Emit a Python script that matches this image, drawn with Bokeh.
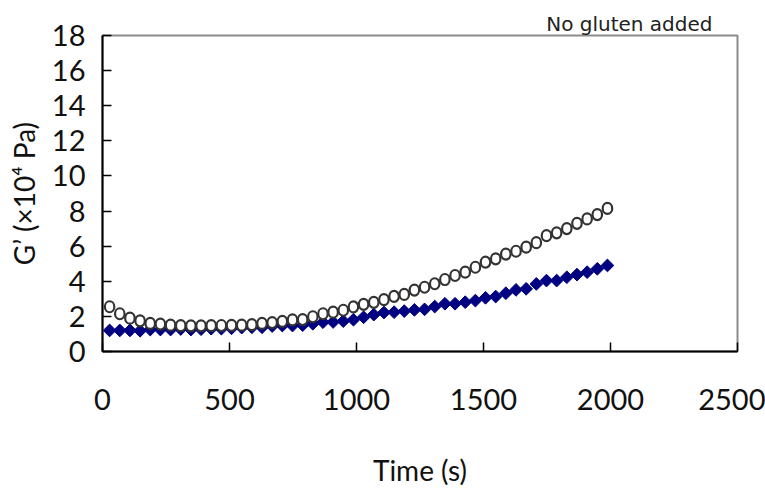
from bokeh.plotting import figure
from bokeh.models import Range1d, FixedTicker, Title
from bokeh.embed import file_html
from bokeh.resources import INLINE
import math

# Sampling times (s)
time_s = [28, 68, 108, 148, 188, 228, 268, 308, 348, 388,
          428, 468, 508, 548, 588, 628, 668, 708, 748, 788,
          828, 868, 908, 948, 988, 1028, 1068, 1108, 1148, 1188,
          1228, 1268, 1308, 1348, 1388, 1428, 1468, 1508, 1548, 1588,
          1628, 1668, 1708, 1748, 1788, 1828, 1868, 1908, 1948, 1988]

# G' (x10^4 Pa), open circles
g_circle = [2.55, 2.15, 1.90, 1.75, 1.60, 1.56, 1.50, 1.47, 1.46, 1.46,
            1.47, 1.48, 1.49, 1.50, 1.53, 1.60, 1.65, 1.72, 1.80, 1.82,
            1.98, 2.15, 2.24, 2.35, 2.54, 2.69, 2.80, 2.95, 3.14, 3.25,
            3.50, 3.66, 3.86, 4.10, 4.33, 4.52, 4.80, 5.09, 5.28, 5.55,
            5.71, 5.94, 6.20, 6.60, 6.76, 7.00, 7.30, 7.55, 7.80, 8.15]

# G' (x10^4 Pa), filled diamonds
g_diamond = [1.20, 1.20, 1.20, 1.18, 1.25, 1.25, 1.25, 1.28, 1.25, 1.27,
             1.30, 1.30, 1.32, 1.36, 1.38, 1.38, 1.45, 1.48, 1.48, 1.50,
             1.58, 1.67, 1.68, 1.73, 1.81, 1.95, 2.10, 2.22, 2.24, 2.30,
             2.37, 2.40, 2.56, 2.72, 2.72, 2.81, 2.90, 3.06, 3.13, 3.32,
             3.51, 3.57, 3.85, 4.04, 4.04, 4.23, 4.38, 4.52, 4.71, 4.90]

x_ticks = [0, 500, 1000, 1500, 2000, 2500]
y_ticks = [0, 2, 4, 6, 8, 10, 12, 14, 16, 18]

FONT = "Lato"

p = figure(width=765, height=504, output_backend="svg", toolbar_location=None,
           x_range=Range1d(0, 2500), y_range=Range1d(0, 18),
           min_border_left=102, min_border_right=28,
           min_border_top=35, min_border_bottom=153)

p.grid.visible = False
p.outline_line_color = "#8c8c8c"
p.outline_line_width = 2
p.background_fill_color = "white"
p.border_fill_color = "white"

# sample description above the top-right of the plot area
p.add_layout(Title(text="No gluten added", align="right", offset=25,
                   text_font="DejaVu Sans", text_font_size="20px",
                   text_font_style="normal", text_color="#222222",
                   standoff=0), "above")

for ax in (p.xaxis[0], p.yaxis[0]):
    ax.axis_line_color = "black"
    ax.axis_line_width = 2
    ax.major_tick_line_color = "black"
    ax.major_tick_line_width = 1.5
    ax.major_tick_in = 9
    ax.major_tick_out = 0
    ax.minor_tick_line_color = None
    ax.major_label_text_font = FONT
    ax.major_label_text_font_size = "29px"
    ax.major_label_text_color = "#111111"
    ax.axis_label_text_font = FONT
    ax.axis_label_text_font_size = "28px"
    ax.axis_label_text_font_style = "normal"
    ax.axis_label_text_color = "#111111"

p.xaxis[0].ticker = FixedTicker(ticks=x_ticks)
p.yaxis[0].ticker = FixedTicker(ticks=y_ticks)
p.xaxis[0].major_label_standoff = 37
p.xaxis[0].axis_label = "Time (s)"
p.xaxis[0].axis_label_standoff = 40
p.yaxis[0].major_label_standoff = 17
p.yaxis[0].axis_label = "G\u2019 (\u00d710\u2074 Pa)"
p.yaxis[0].axis_label_standoff = 8

# filled navy diamonds
p.scatter(time_s, g_diamond, marker="square", size=9, angle=math.pi / 4,
          fill_color="#000080", line_color="#000080", line_width=1)

# open circles
p.ellipse(time_s, g_circle, width=9.5, height=11, width_units="screen",
          height_units="screen", fill_color="white", line_color="#333333",
          line_width=2.2)

open("out.html", "w").write(file_html(p, INLINE))
